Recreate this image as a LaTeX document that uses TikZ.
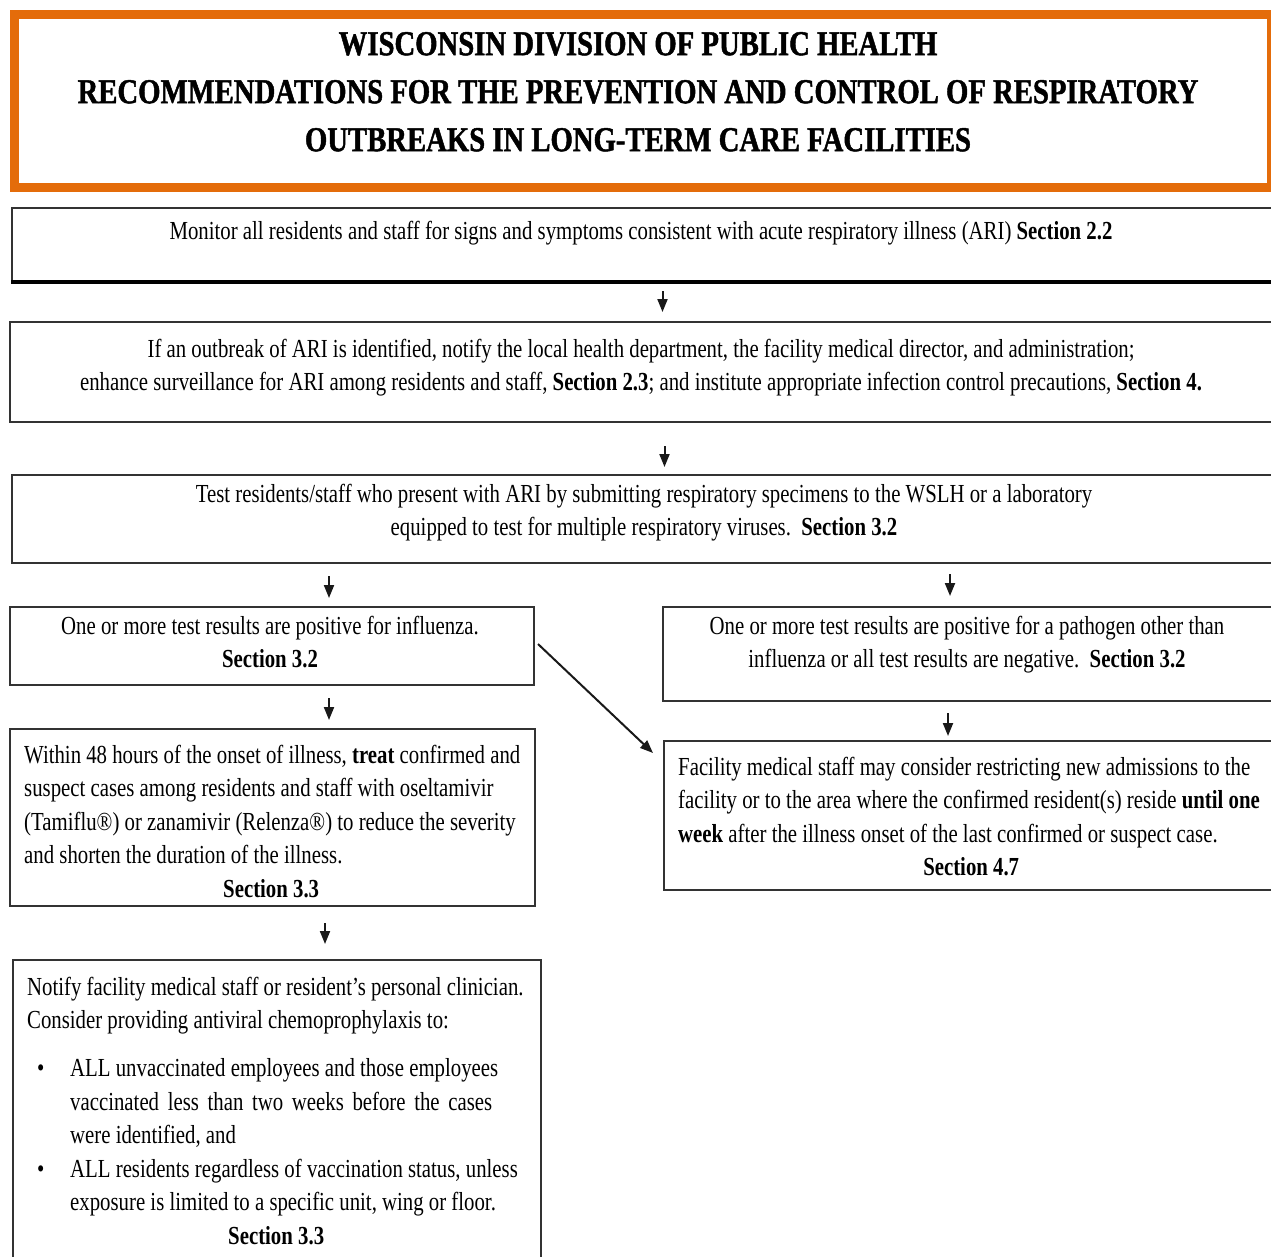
\documentclass[tikz,border=0pt]{standalone}
\usepackage{fontspec}
\setmainfont{Liberation Serif}[FakeStretch=0.8]
\newfontfamily\titlefont{Liberation Serif}[FakeStretch=0.82,BoldFeatures={FakeBold=1.3}]
\usetikzlibrary{arrows.meta,calc}
\definecolor{orng}{RGB}{228,108,10}
\begin{document}
\begin{tikzpicture}[x=1pt,y=-1pt,
  box/.style={draw=black!80,line width=2pt,inner sep=0pt,anchor=north west},
  txt/.style={inner sep=0pt,font=\fontsize{26}{33.5}\selectfont,execute at begin node=\strut},
  ctxt/.style={txt,anchor=north,align=flush center},
  ltxt/.style={txt,anchor=north west,align=flush left},
  arr/.style={-{Triangle[length=13pt,width=10pt]},line width=2pt,black!90}
]
\clip (0,0) rectangle (1271,1256);
\fill[white] (0,0) rectangle (1271,1256);
% title
\node[draw=orng,line width=9pt,inner sep=0pt,minimum width=1257pt,minimum height=173pt,anchor=north west] (title) at (9.5,9.5) {};
\node[inner sep=0pt,anchor=north,align=flush center,text width=1240pt,font=\titlefont\fontsize{35}{48}\selectfont\bfseries,execute at begin node=\strut] (titletxt) at (638,21.4)
 {WISCONSIN DIVISION OF PUBLIC HEALTH\\
  RECOMMENDATIONS FOR THE PREVENTION AND CONTROL OF RESPIRATORY\\
  OUTBREAKS IN LONG-TERM CARE FACILITIES};
% boxes
\node[box,minimum width=1290pt,minimum height=73pt] (b1) at (11,207) {};
\draw[line width=4pt,black] (b1.south west) -- (b1.south east);
\node[box,minimum width=1290pt,minimum height=100pt] (b2) at (9,321) {};
\node[box,minimum width=1290pt,minimum height=88pt] (b3) at (11,474) {};
\node[box,minimum width=524pt,minimum height=78pt] (b4l) at (9,606) {};
\node[box,minimum width=640pt,minimum height=94pt] (b4r) at (662,606) {};
\node[box,minimum width=525pt,minimum height=177pt] (b5l) at (9,728) {};
\node[box,minimum width=640pt,minimum height=149pt] (b5r) at (663,740) {};
\node[box,minimum width=528pt,minimum height=330pt] (b6) at (12,959) {};
% texts
\node[ctxt,text width=1240pt] (t1) at (641,215.55) {Monitor all residents and staff for signs and symptoms consistent with acute respiratory illness (ARI) \textbf{Section 2.2}};
\node[ctxt,text width=1240pt] (t2) at (641,333.55) {If an outbreak of ARI is identified, notify the local health department, the facility medical director, and administration;\\
 enhance surveillance for ARI among residents and staff, \textbf{Section 2.3}; and institute appropriate infection control precautions, \textbf{Section 4.}};
\node[ctxt,text width=1240pt] (t3) at (644,478.55) {Test residents/staff who present with ARI by submitting respiratory specimens to the WSLH or a laboratory\\
 equipped to test for multiple respiratory viruses.\ \ \textbf{Section 3.2}};
\node[ctxt,text width=510pt] (t4l) at (270,610.55) {One or more test results are positive for influenza.\\ \textbf{Section 3.2}};
\node[ctxt,text width=600pt] (t4r) at (967,610.55) {One or more test results are positive for a pathogen other than\\
 influenza or all test results are negative.\ \ \textbf{Section 3.2}};
\node[ltxt,text width=560pt] (t5l) at (24,739.55) {Within 48 hours of the onset of illness, \textbf{treat} confirmed and\\
 suspect cases among residents and staff with oseltamivir\\
 (Tamiflu®) or zanamivir (Relenza®) to reduce the severity\\
 and shorten the duration of the illness.\\
 \makebox[494pt]{\textbf{Section 3.3}}};
\node[ltxt,text width=640pt] (t5r) at (678,751.55) {Facility medical staff may consider restricting new admissions to the\\
 facility or to the area where the confirmed resident(s) reside \textbf{until one}\\
 \textbf{week} after the illness onset of the last confirmed or suspect case.\\
 \makebox[586pt]{\textbf{Section 4.7}}};
\node[ltxt,text width=560pt] (t6) at (27,971.55) {Notify facility medical staff or resident’s personal clinician.\\
 Consider providing antiviral chemoprophylaxis to:\\[14.5pt]
 \makebox[43pt][l]{\hspace{10pt}•}ALL unvaccinated employees and those employees\\
 \hspace*{43pt}\makebox[422pt][s]{vaccinated less than two weeks before the cases}\\
 \hspace*{43pt}were identified, and\\
 \makebox[43pt][l]{\hspace{10pt}•}ALL residents regardless of vaccination status, unless\\
 \hspace*{43pt}exposure is limited to a specific unit, wing or floor.\\
 \makebox[498pt]{\textbf{Section 3.3}}};
% connectors
\draw[arr,shorten <=9pt,shorten >=9pt] ([xshift=5.5pt]b1.south) -- ([xshift=5.5pt]b1.south |- b2.north);
\draw[arr,shorten <=23pt,shorten >=7pt] ([xshift=9.5pt]b2.south) -- ([xshift=9.5pt]b2.south |- b3.north);
\draw[arr,shorten <=12pt,shorten >=8pt] ([xshift=57pt]b4l.north |- b3.south) -- ([xshift=57pt]b4l.north);
\draw[arr,shorten <=10pt,shorten >=10pt] (b3.south -| 950,0) -- (b4r.north -| 950,0);
\draw[arr,shorten <=12pt,shorten >=8pt] ([xshift=57pt]b4l.south) -- ([xshift=57pt]b4l.south |- b5l.north);
\draw[arr,shorten <=11pt,shorten >=4pt] (b4r.south -| 948,0) -- (b5r.north -| 948,0);
\draw[arr] ($(b4l.east)+(3,-2)$) -- ($(b5r.north west)+(-10,13)$);
\draw[arr,shorten <=16pt,shorten >=15pt] ([xshift=52.5pt]b5l.south) -- ([xshift=52.5pt]b5l.south |- b6.north);
\end{tikzpicture}
\end{document}
